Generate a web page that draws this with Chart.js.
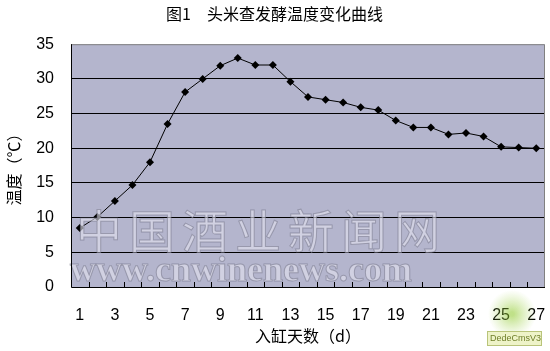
<!DOCTYPE html>
<html>
<head>
<meta charset="utf-8">
<script src="https://cdn.jsdelivr.net/npm/chart.js@4/dist/chart.umd.min.js"></script>
<style>
  html, body { margin: 0; padding: 0; background: #fff; }
  #wrap { width: 550px; height: 351px; }
</style>
</head>
<body>
<div id="wrap"><canvas id="c"></canvas></div>
<script>
// days in vat and temperature readings
var days = ['1','2','3','4','5','6','7','8','9','10','11','12','13','14','15','16','17','18','19','20','21','22','23','24','25','26','27'];
var temps = [8.5, 10.1, 12.4, 14.7, 18.0, 23.5, 28.1, 30.0, 31.9, 33.0, 32.0, 32.0, 29.6, 27.4, 27.0, 26.6, 25.9, 25.5, 24.0, 23.0, 23.0, 22.0, 22.2, 21.7, 20.2, 20.1, 20.0];
var yTicks = [0, 5, 10, 15, 20, 25, 30, 35];

var tickFont = { family: 'Liberation Sans, Arial, sans-serif', size: 16, lineHeight: 1 };
var cjkFont = 'Noto Sans CJK SC';

// plot background, inward category ticks and frame
var plotDeco = {
    id: 'plotDeco',
    beforeDraw: function (chart) {
        var a = chart.chartArea, ctx = chart.ctx;
        ctx.save();
        ctx.fillStyle = '#b4b5cd';
        ctx.fillRect(a.left, a.top, a.right - a.left, a.bottom - a.top);
        ctx.restore();
    },
    afterDraw: function (chart) {
        var a = chart.chartArea, ctx = chart.ctx;
        var n = days.length, step = (a.right - a.left) / n;
        ctx.save();
        // watermark
        ctx.font = '46px ' + cjkFont;
        ctx.textBaseline = 'middle';
        ctx.lineWidth = 1;
        ctx.fillStyle = 'rgba(228,229,240,0.6)';
        ctx.strokeStyle = 'rgba(110,110,130,0.5)';
        var wm = '中国酒业新闻网';
        for (var i = 0; i < wm.length; i++) {
            var cx = 76 + i * 53;
            ctx.fillText(wm[i], cx, 231);
            ctx.strokeText(wm[i], cx, 231);
        }
        ctx.font = 'bold 36px "Liberation Serif", serif';
        ctx.fillText('www.cnwinenews.com', 70, 272);
        ctx.strokeText('www.cnwinenews.com', 70, 272);

        // frame
        ctx.strokeStyle = '#808080';
        ctx.lineWidth = 1;
        ctx.beginPath();
        ctx.moveTo(a.left, a.top + 0.5);
        ctx.lineTo(a.right - 0.5, a.top + 0.5);
        ctx.lineTo(a.right - 0.5, a.bottom);
        ctx.stroke();
        ctx.strokeStyle = '#000';
        ctx.beginPath();
        ctx.moveTo(a.left + 0.5, a.top);
        ctx.lineTo(a.left + 0.5, a.bottom + 0.5);
        ctx.lineTo(a.right, a.bottom + 0.5);
        for (var k = 1; k < n; k++) {
            var tx = Math.round(a.left + k * step) + 0.5;
            ctx.moveTo(tx, a.bottom);
            ctx.lineTo(tx, a.bottom - 5);
        }
        ctx.stroke();

        // cms badge
        var g = ctx.createRadialGradient(512, 314, 2, 512, 314, 24);
        g.addColorStop(0, 'rgba(140,200,40,0.55)');
        g.addColorStop(1, 'rgba(170,215,90,0)');
        ctx.fillStyle = g;
        ctx.beginPath();
        ctx.arc(512, 314, 24, 0, Math.PI * 2);
        ctx.fill();
        ctx.fillStyle = '#eef3c8';
        ctx.strokeStyle = '#b9c47a';
        ctx.fillRect(487, 331, 54, 14);
        ctx.strokeRect(487.5, 331.5, 54, 14);
        ctx.fillStyle = '#6f7f2a';
        ctx.font = '9px "Liberation Sans", sans-serif';
        ctx.textBaseline = 'middle';
        ctx.fillText('DedeCmsV3', 490, 338.5);
        ctx.restore();
    }
};

new Chart(document.getElementById('c'), {
    type: 'line',
    data: {
        labels: days,
        datasets: [{
            data: temps,
            borderColor: '#000',
            borderWidth: 1,
            backgroundColor: '#000',
            pointStyle: 'rectRot',
            pointRadius: 4,
            pointBorderWidth: 0,
            tension: 0,
            fill: false
        }]
    },
    options: {
        responsive: true,
        maintainAspectRatio: false,
        animation: false,
        layout: { padding: { left: 4, right: 5, top: 4, bottom: 7 } },
        plugins: {
            legend: { display: false },
            tooltip: { enabled: false },
            title: {
                display: true,
                text: '图1　头米查发酵温度变化曲线',
                color: '#000',
                font: { family: cjkFont, size: 16, weight: 'normal' },
                padding: { top: 0, bottom: 21 }
            }
        },
        scales: {
            x: {
                offset: true,
                grid: {
                    display: true,
                    offset: true,
                    drawOnChartArea: false,
                    drawTicks: true,
                    tickLength: 21,
                    tickColor: 'rgba(0,0,0,0)'
                },
                border: { display: false },
                ticks: {
                    autoSkip: false,
                    maxRotation: 0,
                    color: '#000',
                    font: tickFont,
                    padding: 0,
                    callback: function (v, i) { return i % 2 === 0 ? days[i] : ''; }
                },
                title: {
                    display: true,
                    text: '入缸天数（d）',
                    color: '#000',
                    font: { family: cjkFont, size: 16, lineHeight: 1 },
                    padding: { top: 4, bottom: 0 }
                }
            },
            y: {
                min: 0,
                max: 35,
                afterBuildTicks: function (s) { s.ticks = yTicks.map(function (v) { return { value: v }; }); },
                grid: {
                    color: function (c) { return c.tick.value === 0 || c.tick.value === 35 ? 'rgba(0,0,0,0)' : '#000'; },
                    drawTicks: false
                },
                border: { display: false },
                ticks: { color: '#000', font: tickFont, padding: 17 },
                title: {
                    display: true,
                    text: '温度（℃）',
                    color: '#000',
                    font: { family: cjkFont, size: 16 },
                    padding: { top: 0, bottom: -4 }
                }
            }
        }
    },
    plugins: [plotDeco]
});
</script>
</body>
</html>
